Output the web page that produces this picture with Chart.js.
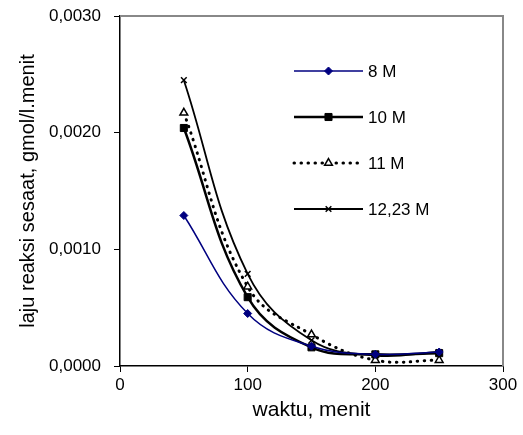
<!DOCTYPE html>
<html>
<head>
<meta charset="utf-8">
<script src="https://cdn.jsdelivr.net/npm/chart.js@4.4.1/dist/chart.umd.min.js"></script>
<style>
  html, body { margin: 0; padding: 0; background: #fff; }
  #wrap { width: 523px; height: 435px; }
</style>
</head>
<body>
<div id="wrap"><canvas id="myChart"></canvas></div>
<script>
// waktu (menit)
const times = [50, 100, 150, 200, 250];

// laju reaksi sesaat per konsentrasi
const rate8M = [0.00129, 0.00045, 0.00017, 0.00010, 0.00012];
const rate10M = [0.00204, 0.00059, 0.00016, 0.00010, 0.00011];
const rate11M = [0.00217, 0.00068, 0.00027, 0.00005, 0.00005];
const rate1223M = [0.00245, 0.00079, 0.00022, 0.00009, 0.00012];

const seriesLabels = ['8 M', '10 M', '11 M', '12,23 M'];

const xTicks = [0, 100, 200, 300];
const yTicks = [0, 0.001, 0.002, 0.003];

function toPoints(arr) {
    return arr.map((v, i) => ({ x: times[i], y: v }));
}

const family = 'Liberation Sans, Arial, sans-serif';
const tickFont = { family: family, size: 17 };
const titleFont = { family: family, size: 21 };
const yTitleFont = { family: family, size: 20 };

// gray frame on top and right
const framePlugin = {
    id: 'frame',
    beforeDatasetsDraw(chart) {
        const a = chart.chartArea;
        const c = chart.ctx;
        c.save();
        c.strokeStyle = '#888';
        c.lineWidth = 2;
        c.beginPath();
        c.moveTo(a.left, a.top);
        c.lineTo(a.right, a.top);
        c.lineTo(a.right, a.bottom);
        c.stroke();
        c.restore();
    }
};

// legend drawn inside the plot, like the original
const legendPlugin = {
    id: 'insideLegend',
    afterDraw(chart) {
        const c = chart.ctx;
        const x0 = 294, x1 = 363;
        const rows = [71, 117, 163, 209];
        chart.data.datasets.forEach((ds, i) => {
            const y = rows[i];
            c.save();
            c.strokeStyle = ds.borderColor;
            c.lineWidth = ds.borderWidth;
            c.lineCap = ds.borderCapStyle || 'butt';
            c.setLineDash(ds.borderDash || []);
            c.beginPath();
            c.moveTo(x0, y);
            c.lineTo(x1, y);
            c.stroke();
            c.restore();

            c.save();
            c.fillStyle = ds.backgroundColor;
            c.strokeStyle = ds.borderColor;
            c.lineWidth = ds.pointBorderWidth;
            Chart.helpers.drawPoint(c, {
                pointStyle: ds.pointStyle,
                radius: ds.pointRadius,
                borderWidth: ds.pointBorderWidth,
                rotation: 0
            }, (x0 + x1) / 2, y);
            c.restore();

            c.save();
            c.fillStyle = '#000';
            c.font = tickFont.size + 'px ' + family;
            c.textBaseline = 'middle';
            c.fillText(ds.label, x1 + 5, y + 1);
            c.restore();
        });
    }
};

const ctx = document.getElementById('myChart').getContext('2d');
const myChart = new Chart(ctx, {
    type: 'line',
    data: {
        datasets: [{
            label: seriesLabels[0],
            data: toPoints(rate8M),
            borderColor: '#000080',
            backgroundColor: '#000080',
            borderWidth: 1.5,
            pointStyle: 'rectRot',
            pointRadius: 4,
            pointBorderWidth: 1,
            tension: 0.4
        }, {
            label: seriesLabels[1],
            data: toPoints(rate10M),
            borderColor: '#000',
            backgroundColor: '#000',
            borderWidth: 2.5,
            pointStyle: 'rect',
            pointRadius: 5,
            pointBorderWidth: 1,
            tension: 0.4
        }, {
            label: seriesLabels[2],
            data: toPoints(rate11M),
            borderColor: '#000',
            backgroundColor: '#fff',
            borderWidth: 3,
            borderDash: [0.5, 6.5],
            borderCapStyle: 'round',
            pointStyle: 'triangle',
            pointRadius: 4.5,
            pointBorderWidth: 1.5,
            tension: 0.4
        }, {
            label: seriesLabels[3],
            data: toPoints(rate1223M),
            borderColor: '#000',
            backgroundColor: '#000',
            borderWidth: 1.8,
            pointStyle: 'crossRot',
            pointRadius: 4,
            pointBorderWidth: 1.5,
            tension: 0.4
        }]
    },
    options: {
        responsive: true,
        maintainAspectRatio: false,
        animation: false,
        layout: { padding: { top: 16, right: 20, left: 0, bottom: 0 } },
        scales: {
            x: {
                type: 'linear',
                min: 0,
                max: 300,
                afterBuildTicks: s => { s.ticks = xTicks.map(v => ({ value: v })); },
                afterFit: s => { s.height = 69; s.paddingLeft = 0; s.paddingRight = 0; },
                grid: { drawOnChartArea: false, tickLength: 6, color: '#000', lineWidth: 1 },
                border: { color: '#000', width: 1.5 },
                ticks: { color: '#000', font: tickFont, padding: 3 },
                title: { display: true, text: 'waktu, menit', color: '#000', font: titleFont, padding: { top: 0, bottom: 12 } }
            },
            y: {
                min: 0,
                max: 0.003,
                afterBuildTicks: s => { s.ticks = yTicks.map(v => ({ value: v })); },
                afterFit: s => { s.width = 120; s.paddingTop = 0; s.paddingBottom = 0; },
                grid: { drawOnChartArea: false, tickLength: 6, color: '#000', lineWidth: 1 },
                border: { color: '#000', width: 1.5 },
                ticks: {
                    color: '#000',
                    font: tickFont,
                    padding: 13,
                    callback: v => v.toFixed(4).replace('.', ',')
                },
                title: { display: true, text: 'laju reaksi sesaat, gmol/l.menit', color: '#000', font: yTitleFont, padding: { top: 16, bottom: 0 } }
            }
        },
        plugins: {
            legend: { display: false },
            tooltip: { enabled: false }
        }
    },
    plugins: [framePlugin, legendPlugin]
});
</script>
</body>
</html>
